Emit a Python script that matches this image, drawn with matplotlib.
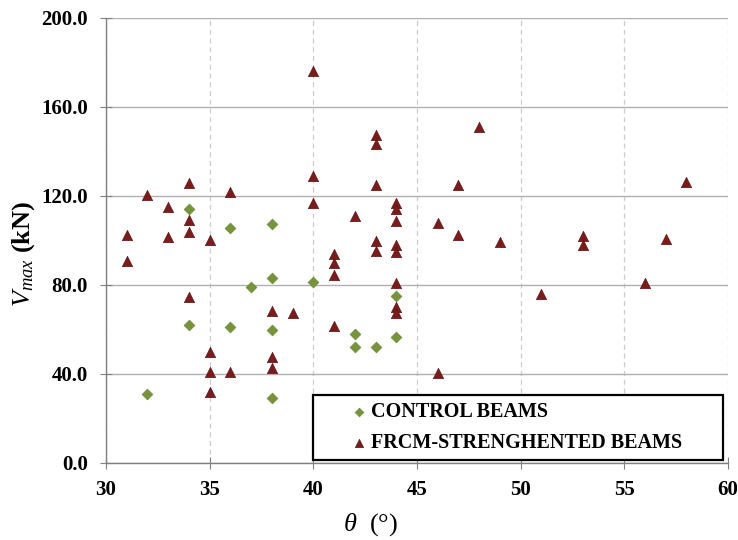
import matplotlib.pyplot as plt
from matplotlib.patches import Rectangle
from matplotlib.ticker import FormatStrFormatter, MultipleLocator

plt.rcParams["font.family"] = ["Liberation Serif", "DejaVu Serif"]
plt.rcParams["mathtext.fontset"] = "custom"
plt.rcParams["mathtext.rm"] = "Liberation Serif"
plt.rcParams["mathtext.it"] = "Liberation Serif:italic"
plt.rcParams["mathtext.bf"] = "Liberation Serif:bold"

# control beams: theta (deg), Vmax (kN)
control_theta = [32, 34, 34, 36, 36, 37, 38, 38, 38, 38, 40, 42, 42, 43, 44, 44]
control_v = [31, 114, 62.2, 105.5, 61.3, 79, 107.5, 83, 59.8, 29, 81.2,
             57.8, 52.3, 52.3, 75.2, 56.5]

# FRCM-strengthened beams
frcm_theta = [31, 31, 32, 33, 33, 34, 34, 34, 34, 35, 35, 35, 35, 36, 36,
              38, 38, 38, 39, 40, 40, 40, 41, 41, 41, 41, 42,
              43, 43, 43, 43, 43, 44, 44, 44, 44, 44, 44, 44, 44,
              46, 46, 47, 47, 48, 49, 51, 53, 53, 56, 57, 58]
frcm_v = [102.5, 91, 120.5, 115, 101.4, 126, 109, 104, 74.5, 100, 50, 41, 31.8, 122, 41,
          68.5, 47.8, 42.8, 67.3, 176, 129, 117, 94, 89.8, 84.5, 61.6, 111,
          147.5, 143.4, 125, 99.8, 95.5, 116.7, 114, 108.8, 98, 95, 80.8, 70.3, 67.3,
          107.7, 40.6, 125, 102.5, 150.8, 99.5, 75.8, 102, 98, 80.8, 100.5, 126.4]

fig = plt.figure(figsize=(7.38, 5.4), dpi=100)
ax = fig.add_axes([0.1436, 0.1426, 0.8428, 0.8241])

ax.set_xlim(30, 60)
ax.set_ylim(0, 200)
ax.xaxis.set_major_locator(MultipleLocator(5))
ax.yaxis.set_major_locator(MultipleLocator(40))
ax.yaxis.set_major_formatter(FormatStrFormatter("%.1f"))

ax.grid(axis="y", color="#b0b0b0", linewidth=1.0)
ax.grid(axis="x", color="#cccccc", linestyle=(0, (4, 3)), linewidth=0.9)
ax.set_axisbelow(True)

for side in ("top", "right"):
    ax.spines[side].set_visible(False)
for side in ("left", "bottom"):
    ax.spines[side].set_color("#808080")
    ax.spines[side].set_linewidth(1.0)
ax.tick_params(direction="inout", length=8, color="#808080", labelsize=15)
ax.tick_params(axis="x", pad=8)
ax.tick_params(axis="y", pad=9)
for lab in ax.get_xticklabels() + ax.get_yticklabels():
    lab.set_fontweight("bold")

ax.scatter(control_theta, control_v, marker="D", s=30, color="#77933C",
           edgecolors="#6a8a35", linewidths=0.5, label="CONTROL BEAMS", zorder=3)
ax.scatter(frcm_theta, frcm_v, marker="^", s=55, color="#7B1C1C",
           edgecolors="#5e1414", linewidths=0.5, label="FRCM-STRENGHENTED BEAMS",
           zorder=3)

ax.set_xlabel(r"$\theta$  (°)", fontsize=19)
ax.xaxis.set_label_coords(0.426, -0.108)
ax.set_ylabel(r"$V_{max}$ (kN)", fontsize=19, fontweight="bold")
ax.yaxis.set_label_coords(-0.111, 0.47)

box = Rectangle((0.333, 0.006), 0.659, 0.147, transform=ax.transAxes,
                facecolor="white", edgecolor="black", linewidth=1.6, zorder=4)
ax.add_patch(box)
leg = ax.legend(loc="center left", bbox_to_anchor=(0.381, 0.08), frameon=False,
                prop={"weight": "bold", "size": 14.5}, handlelength=0.6,
                handletextpad=0.3, labelspacing=0.55, borderpad=0,
                markerscale=0.8, scatterpoints=1)
leg.set_zorder(5)

fig.savefig("out.png", dpi=100)
